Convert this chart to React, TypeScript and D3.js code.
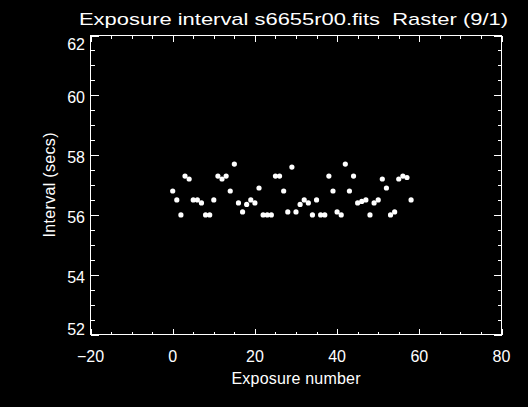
import React, { useRef, useEffect } from 'react';
import * as d3 from 'd3';

// exposure interval per exposure (secs)
const intervals: number[] = [
  56.8, 56.5, 56.0, 57.3, 57.2, 56.5, 56.5, 56.4, 56.0, 56.0,
  56.5, 57.3, 57.2, 57.3, 56.8, 57.7, 56.4, 56.1, 56.35, 56.5,
  56.4, 56.9, 56.0, 56.0, 56.0, 57.3, 57.3, 56.8, 56.1, 57.6,
  56.1, 56.35, 56.5, 56.4, 56.0, 56.5, 56.0, 56.0, 57.3, 56.8,
  56.1, 56.0, 57.7, 56.8, 57.3, 56.4, 56.45, 56.5, 56.0, 56.4,
  56.5, 57.2, 56.9, 56.0, 56.1, 57.2, 57.3, 57.25, 56.5,
];
const exposures: number[] = intervals.map((_, i) => i);

const xMajorTicks = [-20, 0, 20, 40, 60, 80];
const yMajorTicks = [52, 54, 56, 58, 60, 62];

const title = 'Exposure interval s6655r00.fits  Raster (9/1)';
const xTitle = 'Exposure number';
const yTitle = 'Interval (secs)';

const App = () => {
  const svgRef = useRef<SVGSVGElement>(null);

  useEffect(() => {
    const width = 528;
    const height = 407;
    const left = 90.5, right = 501.5, top = 35.5, bottom = 334.5;
    const font = '"Liberation Sans", Arial, sans-serif';

    const svg = d3.select(svgRef.current)
      .attr('width', width)
      .attr('height', height);

    svg.selectAll('*').remove();

    svg.append('rect')
      .attr('width', width)
      .attr('height', height)
      .attr('fill', '#000');

    const x = d3.scaleLinear().domain([-20, 80]).range([left, right]);
    const y = d3.scaleLinear().domain([52, 62]).range([bottom, top]);

    // minor ticks: 4 intervals per major step
    const xMinor = d3.range(-20, 80.001, 5);
    const yMinor = d3.range(52, 62.001, 0.5);

    const g = svg.append('g')
      .attr('stroke', '#fff')
      .attr('stroke-width', 1)
      .attr('shape-rendering', 'crispEdges');

    // frame
    g.append('rect')
      .attr('x', left)
      .attr('y', top)
      .attr('width', right - left)
      .attr('height', bottom - top)
      .attr('fill', 'none');

    // x ticks, bottom and top, pointing inward
    xMinor.forEach(v => {
      const len = v % 20 === 0 ? 6 : 3;
      const px = Math.round(x(v)) + 0.5;
      g.append('line').attr('x1', px).attr('x2', px)
        .attr('y1', bottom).attr('y2', bottom - len);
      g.append('line').attr('x1', px).attr('x2', px)
        .attr('y1', top).attr('y2', top + len);
    });

    // y ticks, left and right
    yMinor.forEach(v => {
      const len = v % 2 === 0 ? 8 : 4;
      const py = Math.round(y(v)) + 0.5;
      g.append('line').attr('y1', py).attr('y2', py)
        .attr('x1', left).attr('x2', left + len);
      g.append('line').attr('y1', py).attr('y2', py)
        .attr('x1', right).attr('x2', right - len);
    });

    const txt = svg.append('g')
      .attr('fill', '#fff')
      .attr('font-family', font);

    // tick labels
    txt.selectAll('text.xl')
      .data(xMajorTicks)
      .join('text')
      .attr('class', 'xl')
      .attr('x', d => x(d))
      .attr('y', 362)
      .attr('text-anchor', 'middle')
      .attr('font-size', 16)
      .text(d => (d < 0 ? '\u2212' + Math.abs(d) : String(d)));

    txt.selectAll('text.yl')
      .data(yMajorTicks)
      .join('text')
      .attr('class', 'yl')
      .attr('x', 85)
      .attr('y', d => Math.min(bottom, Math.max(top + 14, y(d) + 8)))
      .attr('text-anchor', 'end')
      .attr('font-size', 16)
      .text(d => String(d));

    // titles
    txt.append('text')
      .attr('x', 79)
      .attr('y', 25)
      .attr('font-size', 17)
      .attr('textLength', 429)
      .attr('lengthAdjust', 'spacingAndGlyphs')
      .style('white-space', 'pre')
      .text(title);

    txt.append('text')
      .attr('x', 296)
      .attr('y', 384)
      .attr('text-anchor', 'middle')
      .attr('font-size', 16)
      .attr('textLength', 129)
      .text(xTitle);

    txt.append('text')
      .attr('transform', `translate(55,${(top + bottom) / 2}) rotate(-90)`)
      .attr('text-anchor', 'middle')
      .attr('font-size', 16)
      .attr('textLength', 105)
      .text(yTitle);

    // points
    svg.append('g')
      .selectAll('circle')
      .data(exposures)
      .join('circle')
      .attr('cx', d => x(d))
      .attr('cy', d => y(intervals[d]))
      .attr('r', 2.6)
      .attr('fill', '#fff');
  }, []);

  return (
    <svg ref={svgRef} style={{ position: 'absolute', left: 0, top: 0, display: 'block' }}></svg>
  );
};

export default App;
